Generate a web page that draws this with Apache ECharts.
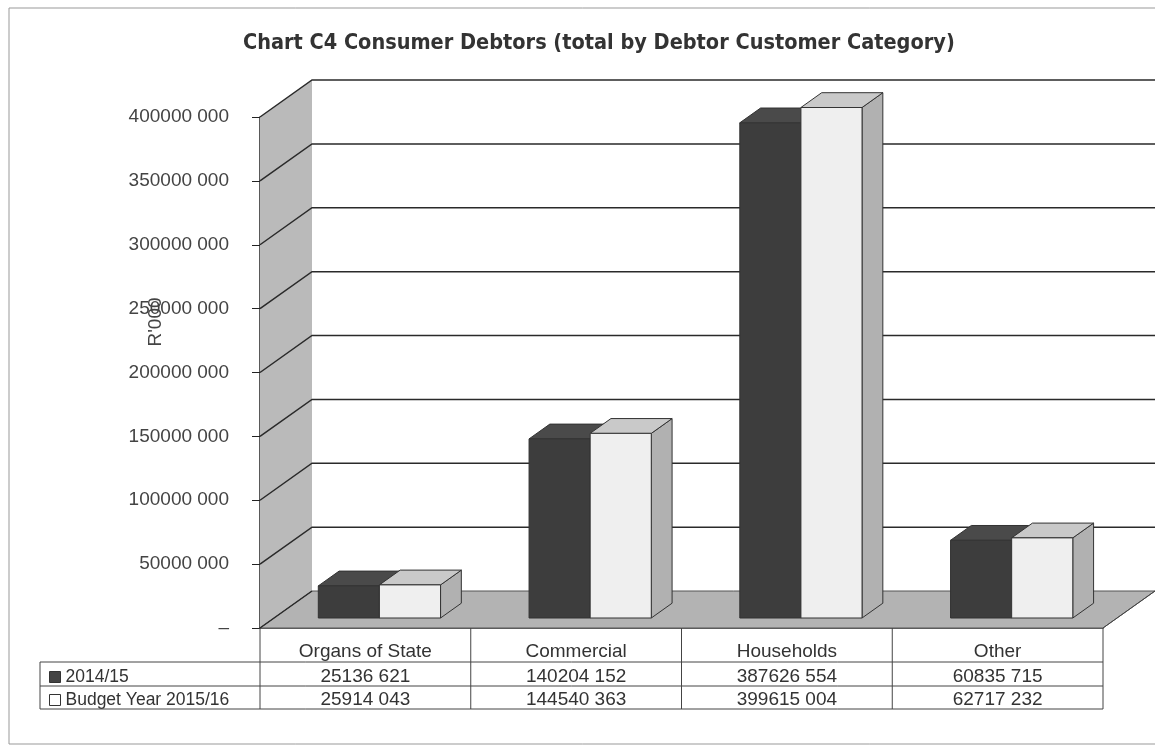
<!DOCTYPE html>
<html>
<head>
<meta charset="utf-8">
<script src="https://cdn.jsdelivr.net/npm/echarts@6/dist/echarts.min.js"></script>
<style>
html,body{margin:0;padding:0;background:#fff;}
#main{width:1155px;height:750px;}
</style>
</head>
<body>
<div id="main"></div>
<script>
// ---- data ----
var categories = ['Organs of State', 'Commercial', 'Households', 'Other'];
var seriesNames = ['2014/15', 'Budget Year 2015/16'];
var values2014 = [25136621, 140204152, 387626554, 60835715];
var valuesBudget = [25914043, 144540363, 399615004, 62717232];
var yTicks = [0, 50000000, 100000000, 150000000, 200000000, 250000000, 300000000, 350000000, 400000000];
var yAxisName = "R'000";
var titleText = 'Chart C4 Consumer Debtors (total by Debtor Customer Category)';

// ---- layout / style constants ----
var GL = 260, GR = 52, GT = 117, GB = 122;   // grid
var DX = 52, DY = -37;                        // full depth offset
var DF = 0.27, DB = 0.67;                     // bar front/back depth fraction
var BAR_FRAC = 0.29;                          // bar width per category width
var FONT = "'Liberation Sans', Arial, sans-serif";

function fmt(v) {
  if (v === 0) return '\u2013';
  var hi = Math.floor(v / 1000), lo = v % 1000;
  var s = String(lo);
  while (s.length < 3) s = '0' + s;
  return hi + ' ' + s;
}

var chart = echarts.init(document.getElementById('main'));

function frameRender(params, api) {
  var cs = params.coordSys;
  var x0 = cs.x, w = cs.width;
  var yTop = api.coord([0, yTicks[yTicks.length - 1]])[1];
  var yBot = api.coord([0, 0])[1];
  return {
    type: 'group',
    children: [
      { type: 'polygon', shape: { points: [[x0, yTop], [x0 + DX, yTop + DY], [x0 + DX, yBot + DY], [x0, yBot]] },
        style: { fill: '#bababa', stroke: null } },
      { type: 'polygon', shape: { points: [[x0, yBot], [x0 + w, yBot], [x0 + w + DX, yBot + DY], [x0 + DX, yBot + DY]] },
        style: { fill: '#b3b3b3', stroke: '#555', lineWidth: 1 } }
    ]
  };
}

function gridRender(params, api) {
  var cs = params.coordSys;
  var x0 = cs.x, w = cs.width;
  var y = api.coord([0, api.value(0)])[1];
  var pts = api.value(0) === 0 ? [[x0, y], [x0 + DX, y + DY]]
                               : [[x0, y], [x0 + DX, y + DY], [x0 + w + DX + 10, y + DY]];
  return { type: 'polyline', shape: { points: pts }, style: { stroke: '#2a2a2a', lineWidth: 1.5, fill: null } };
}

function makeBarRender(slot, front, top, side) {
  return function (params, api) {
    var ci = api.value(0), v = api.value(1);
    var base = api.coord([ci, 0]);
    var tp = api.coord([ci, v]);
    var bw = api.size([1, 0])[0] * BAR_FRAC;
    var xa = base[0] + slot * bw + DF * DX;
    var xb = xa + bw;
    var yb = base[1] + DF * DY, yt = tp[1] + DF * DY;
    var ddx = (DB - DF) * DX, ddy = (DB - DF) * DY;
    return {
      type: 'group',
      children: [
        { type: 'polygon', shape: { points: [[xb, yt], [xb + ddx, yt + ddy], [xb + ddx, yb + ddy], [xb, yb]] },
          style: { fill: side, stroke: '#333', lineWidth: 1 } },
        { type: 'polygon', shape: { points: [[xa, yt], [xb, yt], [xb + ddx, yt + ddy], [xa + ddx, yt + ddy]] },
          style: { fill: top, stroke: '#333', lineWidth: 1 } },
        { type: 'rect', shape: { x: xa, y: yt, width: bw, height: yb - yt },
          style: { fill: front, stroke: '#333', lineWidth: 1 } }
      ]
    };
  };
}

function rowData(arr) { return arr.map(function (v, i) { return [i, v]; }); }

// table geometry derived from grid
var W = 1155 - GL - GR, H = 750 - GT - GB;
var yFloor = GT + H;
var catW = W / categories.length;
var TL = 40, R1 = yFloor + 34, R2 = R1 + 24, R3 = R2 + 23;
var tableLines = [];
tableLines.push({ type: 'line', shape: { x1: TL, y1: R1, x2: GL + W, y2: R1 } });
tableLines.push({ type: 'line', shape: { x1: TL, y1: R2, x2: GL + W, y2: R2 } });
tableLines.push({ type: 'line', shape: { x1: TL, y1: R3, x2: GL + W, y2: R3 } });
tableLines.push({ type: 'line', shape: { x1: TL, y1: R1, x2: TL, y2: R3 } });
for (var k = 0; k <= categories.length; k++) {
  tableLines.push({ type: 'line', shape: { x1: GL + k * catW, y1: yFloor, x2: GL + k * catW, y2: R3 } });
}
tableLines.push({ type: 'line', shape: { x1: GL + W, y1: yFloor, x2: GL + W + DX, y2: yFloor + DY } });
tableLines.forEach(function (l) { l.style = { stroke: '#444', lineWidth: 1 }; l.z = 10; l.silent = true; });

var graphics = tableLines.concat([
  { type: 'rect', shape: { x: 9, y: 8, width: 1160, height: 736 }, style: { fill: null, stroke: '#999', lineWidth: 1 }, silent: true },
  { type: 'text', x: 156, y: 322, rotation: Math.PI / 2,
    style: { text: yAxisName, fill: '#444', font: '19px ' + FONT, align: 'center', verticalAlign: 'middle' }, z: 20 }
]);

function tableAxis(arr, offset) {
  return {
    type: 'category', data: categories, gridIndex: 0, position: 'bottom', offset: offset,
    axisLine: { show: false }, axisTick: { show: false },
    axisLabel: { margin: 14, color: '#333', fontSize: 19, fontFamily: FONT,
      formatter: function (val, idx) { return fmt(arr[idx]); } }
  };
}

var option = {
  backgroundColor: '#fff',
  animation: false,
  title: {
    text: titleText, left: 238, top: 27,
    textStyle: { fontFamily: "'DejaVu Sans Condensed', 'Liberation Sans Narrow', " + FONT, fontWeight: 'bold', fontSize: 21.5, color: '#333' }
  },
  legend: {
    orient: 'vertical', left: 44, top: R1 + 1, itemGap: 5, itemWidth: 11, itemHeight: 11, icon: 'rect',
    textStyle: { fontSize: 17.5, color: '#333', fontFamily: FONT },
    selectedMode: false,
    data: [
      { name: seriesNames[0], itemStyle: { color: '#444', borderColor: '#333', borderWidth: 1 } },
      { name: seriesNames[1], itemStyle: { color: '#fff', borderColor: '#333', borderWidth: 1 } }
    ]
  },
  grid: { left: GL, right: GR, top: GT, bottom: GB },
  xAxis: [
    { type: 'category', data: categories,
      axisLine: { show: true, lineStyle: { color: '#333', width: 1.5 } },
      axisTick: { show: false },
      axisLabel: { margin: 14, color: '#333', fontSize: 19, fontFamily: FONT } },
    tableAxis(values2014, 25),
    tableAxis(valuesBudget, 48)
  ],
  yAxis: {
    type: 'value', min: 0, max: 400000000, interval: 50000000,
    axisLine: { show: true, lineStyle: { color: '#222', width: 1.5 } },
    axisTick: { show: true, length: 8, lineStyle: { color: '#222' } },
    splitLine: { show: false },
    axisLabel: { margin: 31, color: '#444', fontSize: 19, fontFamily: FONT, formatter: fmt }
  },
  graphic: graphics,
  series: [
    { type: 'custom', name: 'frame', renderItem: frameRender, data: [[0]], z: 1, silent: true },
    { type: 'custom', name: 'grid', renderItem: gridRender, data: yTicks.map(function (t) { return [t]; }), z: 2, silent: true,
      encode: { y: 0 } },
    { type: 'custom', name: seriesNames[0], renderItem: makeBarRender(-1, '#3d3d3d', '#4a4a4a', '#555'),
      data: rowData(values2014), encode: { x: 0, y: 1 }, itemStyle: { color: '#444' }, z: 3 },
    { type: 'custom', name: seriesNames[1], renderItem: makeBarRender(0, '#efefef', '#c9c9c9', '#b1b1b1'),
      data: rowData(valuesBudget), encode: { x: 0, y: 1 }, itemStyle: { color: '#fff' }, z: 4 }
  ]
};
chart.setOption(option);
</script>
</body>
</html>
